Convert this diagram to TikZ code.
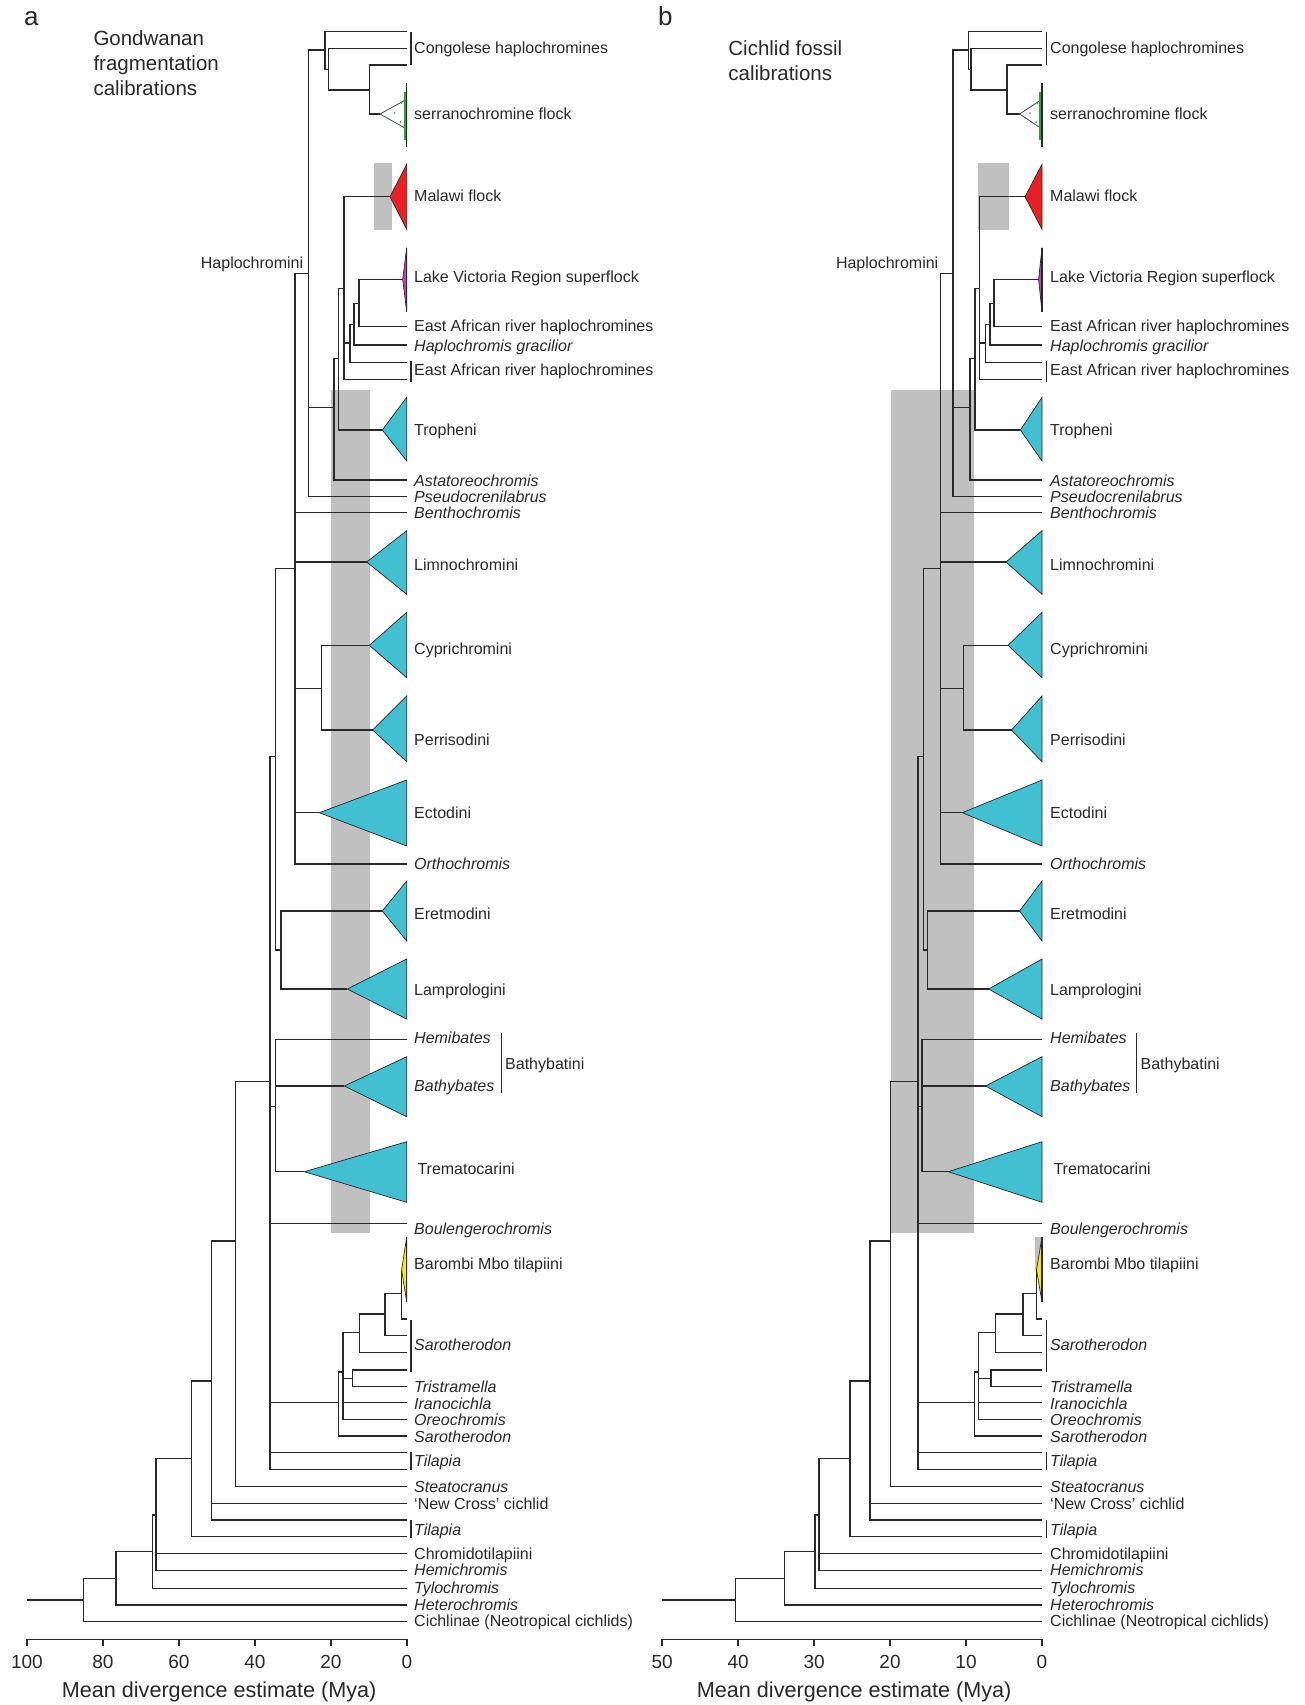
\documentclass[tikz,border=0pt]{standalone}
\usepackage{fontspec}
\setmainfont{Liberation Sans}
\definecolor{ln}{RGB}{40,40,40}
\definecolor{cyanT}{RGB}{66,191,208}
\definecolor{redT}{RGB}{236,32,36}
\definecolor{purT}{RGB}{190,70,180}
\definecolor{yelT}{RGB}{250,235,0}
\definecolor{grnT}{RGB}{40,165,50}
\definecolor{boxG}{RGB}{192,192,192}
\begin{document}
\begin{tikzpicture}[x=1pt,y=-1pt,
  br/.style={draw=ln,line width=1.4pt,line join=miter},
  tri/.style={draw=ln,line width=0.7pt,line join=miter},
  lab/.style={anchor=base west,inner sep=0pt,text=ln,font=\fontsize{16}{19}\selectfont,yshift=-5.8pt},
  hlab/.style={anchor=base east,inner sep=0pt,text=ln,font=\fontsize{16}{19}\selectfont,yshift=-5.8pt},
  barl/.style={draw=ln,line width=1.1pt},
  tick/.style={anchor=base,inner sep=0pt,text=ln,font=\fontsize{19}{22}\selectfont},
  ttl/.style={anchor=base west,inner sep=0pt,text=ln,font=\fontsize{20.5}{24}\selectfont},
  axt/.style={anchor=base,inner sep=0pt,text=ln,font=\fontsize{21.6}{25}\selectfont},
  gbox/.style={fill=boxG,draw=none}]
\useasboundingbox (0,0) rectangle (1305,1705);

% calibration boxes
\fill[gbox] (374.3,163.3) rectangle (392.3,230);
\fill[gbox] (331,389.5) rectangle (370,1233);
\fill[gbox] (978,163.3) rectangle (1009,230);
\fill[gbox] (891,390) rectangle (974.2,1233);
\fill[gbox] (1035.3,1237) rectangle (1042,1270);

% tips
\foreach \n/\y in {t1/31.7,t2/48.3,t3/65,t5/326.7,t6/345,t7/362.7,t8/379.3,t9/480,t10/496.7,t11/512.7,t12/864,t13/1039.3,t14/1223.3,t15/1319,t16/1335.7,t17/1352.3,t18/1370,t19/1386.7,t20/1402.7,t21/1419.3,t22/1436,t23/1452.3,t24/1469.3,t25/1486.7,t26/1503.3,t27/1520,t28/1536.7,t29/1553.3,t30/1570.7,t31/1588.3,t32/1605,t33/1621.7}
  {\coordinate (a\n) at (406.7,\y); \coordinate (b\n) at (1042,\y);}

% internal nodes
\foreach \n/\xa/\xb/\y in {N1/325/968.7/50,N2/328.3/970.8/69.3,N3/369.3/1006.8/90,H/308.3/953/273.3,A/334/970/407.3,B/338.3/975/358.3,M/344/979.3/288.3,C/350/985.6/343,D/354/989.9/324.2,E/359/994.1/303.3,n11/295/940.2/568.3,n13/321.7/963.6/688.3,n9/275.7/923.3/756.7,n12/281/927.5/950,n10/275.7/922/1106.7,n8/270/917.8/1081.7,Oreo/338.2/974.2/1402.7,P/343/978.4/1372,Tr/352.6/991.1/1378.3,Q/359.5/995.4/1332.3,S/385.1/1023/1314,U/401.6/1036.5/1293.3,n7/235.5/890.2/1241,n6/211.2/869.9/1381,n5/191.2/849.9/1458.3,n4/156.1/819/1515,n3/152.6/815.1/1551.7,n2/115.8/784.2/1578.3,n1/83.3/735.4/1600,R0/26.9/662.1/1600}
  {\coordinate (a\n) at (\xa,\y); \coordinate (b\n) at (\xb,\y);}

% collapsed clade apexes
\foreach \n/\xa/\xb/\y in {Serr/380/1019.6/114,Mal/390/1025/196.7,LV/402.7/1038.6/279.3,Trop/382.3/1020.4/430,Limno/366.7/1006/562,Cypri/369.3/1008.1/645.3,Perri/372.7/1011.5/730,Ecto/319.3/962.3/812.7,Eret/382.3/1019.6/911,Lampro/347.3/988.6/989,Bathy/344.3/985.6/1086,Trem/304.3/948.3/1171.7,Bar/401.6/1036.5/1270}
  {\coordinate (a\n) at (\xa,\y); \coordinate (b\n) at (\xb,\y);}

% branches
\foreach \p in {a,b}{
  \foreach \u/\v in {R0/n1,n1/n2,n1/t33,n2/n3,n2/t32,n3/n4,n3/t31,n4/n5,n4/t29,n4/t30,n5/n6,n5/t28,n6/n7,n6/t26,n6/t27,n7/n8,n7/t25,n8/n9,n8/n10,n8/t14,n8/Oreo,n8/t23,n8/t24,n9/n11,n9/n12,n10/t13,n10/Bathy,n10/Trem,n11/H,n11/t11,n11/Limno,n11/n13,n11/Ecto,n11/t12,n12/Eret,n12/Lampro,n13/Cypri,n13/Perri,H/N1,H/A,H/t10,N1/t1,N1/N2,N2/t2,N2/N3,N3/t3,N3/Serr,A/B,A/t9,B/M,B/Trop,M/Mal,M/C,M/t8,C/D,C/t7,D/E,D/t6,E/LV,E/t5,Oreo/P,Oreo/t22,P/Q,P/Tr,P/t20,P/t21,Tr/t18,Tr/t19,Q/S,Q/t17,S/U,S/t16,U/Bar,U/t15}
    {\draw[br] (\p\u) |- (\p\v);}
}

% collapsed clades
\foreach \p/\T in {a/406.7,b/1042}{
  \foreach \n/\ya/\yb/\c in {Mal/164.3/229.3/redT,LV/247.7/311.7/purT,Trop/397.3/461/cyanT,Limno/530.7/594.3/cyanT,Cypri/612.3/677.7/cyanT,Perri/696/761.7/cyanT,Ecto/780/846/cyanT,Eret/881/941/cyanT,Lampro/959/1019/cyanT,Bathy/1056.7/1116.7/cyanT,Trem/1141.7/1202.3/cyanT,Bar/1237/1302/yelT}
    {\filldraw[tri,fill=\c] (\p\n) -- (\T,\ya) -- (\T,\yb) -- cycle;}
  \filldraw[draw=ln!85,line width=0.8pt,fill=white] (\p Serr) -- (\T,99.3) -- (\T,129) -- cycle;
  \draw[grnT,line width=2.2pt] (\T-1.5,92) -- (\T-1.5,140);
  \fill[grnT] (\T-5,103) circle (1) (\T-6,122) circle (1) (\T-12,113) circle (0.9);
  \draw[ln,line width=1.1pt] (\T,82.7) -- (\T,146.7);
  \draw[ln,line width=1.1pt] (\T,247.7) -- (\T,311.7);
  \draw[ln,line width=1.1pt] (\T,1237) -- (\T,1302);
}

% bracket bars
\foreach \p/\bx/\bb in {a/411/501.7,b/1046.5/1136.2}{
  \draw[barl] (\bx,31.7) -- (\bx,65);
  \draw[barl] (\bx,360.7) -- (\bx,381.7);
  \draw[barl] (\bx,1320) -- (\bx,1371.7);
  \draw[barl] (\bx,1452.3) -- (\bx,1470);
  \draw[barl] (\bx,1520) -- (\bx,1538.3);
  \draw[barl] (\bb,1032.7) -- (\bb,1092.7);
}

% labels
\foreach \p/\lx in {a/414,b/1050}{
  \foreach \i/\y/\txt in {1/48/{Congolese haplochromines},2/113.3/{serranochromine flock},3/195.7/{Malawi flock},4/276.7/{Lake Victoria Region superflock},5/326/{East African river haplochromines},6/345.7/{\itshape Haplochromis gracilior},7/370/{East African river haplochromines},8/430/{Tropheni},9/480.7/{\itshape Astatoreochromis},10/496.7/{\itshape Pseudocrenilabrus},11/512.7/{\itshape Benthochromis},12/565/{Limnochromini},13/648.7/{Cyprichromini},14/739.3/{Perrisodini},15/812.3/{Ectodini},16/863.3/{\itshape Orthochromis},17/913.3/{Eretmodini},18/990/{Lamprologini},19/1037.7/{\itshape Hemibates},20/1085.3/{\itshape Bathybates},21/1228.3/{\itshape Boulengerochromis},22/1263.3/{Barombi Mbo tilapiini},23/1345/{\itshape Sarotherodon},24/1386.7/{\itshape Tristramella},25/1403.3/{\itshape Iranocichla},26/1419.3/{\itshape Oreochromis},27/1436.7/{\itshape Sarotherodon},28/1461/{\itshape Tilapia},29/1486.7/{\itshape Steatocranus},30/1503.3/{‘New Cross’ cichlid},31/1530/{\itshape Tilapia},32/1553.3/{Chromidotilapiini},33/1570/{\itshape Hemichromis},34/1587.3/{\itshape Tylochromis},35/1605/{\itshape Heterochromis},36/1621/{Cichlinae (Neotropical cichlids)}}
    {\node[lab] (\p L\i) at (\lx,\y) {\txt};}
  \node[lab] (\p Ltrem) at (\lx+3.3,1169) {Trematocarini};
}
\node[lab] (aLbathyb) at (505,1063.3) {Bathybatini};
\node[lab] (bLbathyb) at (1140.4,1063.3) {Bathybatini};
\node[hlab] (aLhap) at (303.4,262.3) {Haplochromini};
\node[hlab] (bLhap) at (938.5,262.3) {Haplochromini};

% panel titles
\node[anchor=base west,inner sep=0pt,text=ln,font=\fontsize{26}{30}\selectfont] (aPan) at (24,25) {a};
\node[anchor=base west,inner sep=0pt,text=ln,font=\fontsize{26}{30}\selectfont] (bPan) at (658,25) {b};
\node[ttl] (aT1) at (93.3,45) {Gondwanan};
\node[ttl] (aT2) at (93.3,70.5) {fragmentation};
\node[ttl] (aT3) at (93.3,95.5) {calibrations};
\node[ttl] (bT1) at (728.2,55) {Cichlid fossil};
\node[ttl] (bT2) at (728.2,80) {calibrations};

% axes
\coordinate (aAx0) at (26.9,1639.3);
\coordinate (aAx1) at (406.8,1639.3);
\coordinate (bAx0) at (662.1,1639.3);
\coordinate (bAx1) at (1042,1639.3);
\draw[br] (aAx0) -- (aAx1);
\draw[br] (bAx0) -- (bAx1);
\foreach \t in {0,20,40,60,80,100}{
  \draw[br] ({406.8-3.799*\t},1639.3) -- ++(0,7);
  \node[tick] (aTk\t) at ({406.8-3.799*\t},1668) {\t};
}
\foreach \t in {0,10,20,30,40,50}{
  \draw[br] ({1042-7.598*\t},1639.3) -- ++(0,7);
  \node[tick] (bTk\t) at ({1042-7.598*\t},1668) {\t};
}
\node[axt] (aAxT) at (219.2,1697) {Mean divergence estimate (Mya)};
\node[axt] (bAxT) at (854.2,1697) {Mean divergence estimate (Mya)};
\end{tikzpicture}
\end{document}
